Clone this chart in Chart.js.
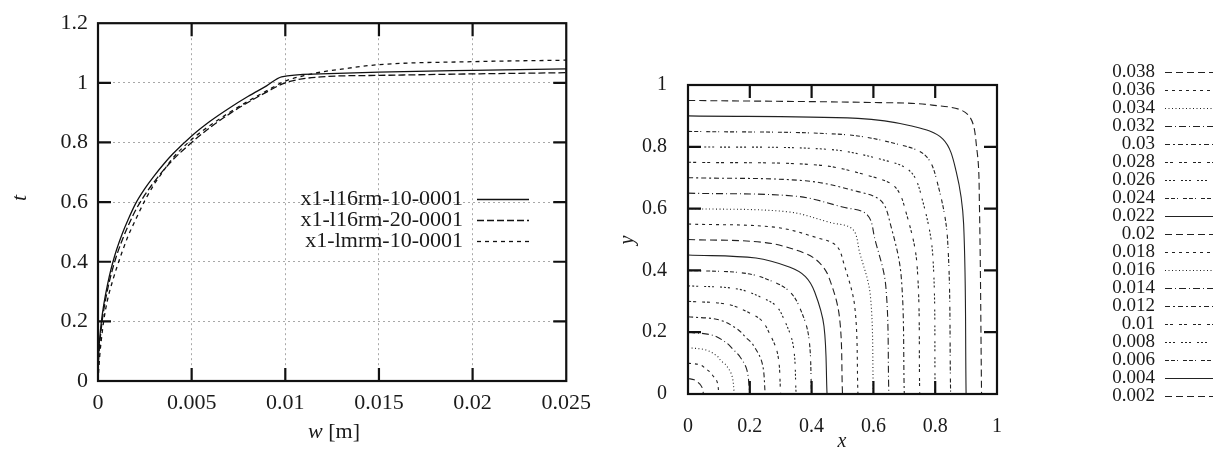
<!DOCTYPE html>
<html>
<head>
<meta charset="utf-8">
<script src="https://cdn.jsdelivr.net/npm/chart.js@4/dist/chart.umd.min.js"></script>
<style>
  html, body { margin: 0; padding: 0; background: #fff; }
  #wrap { position: relative; width: 1225px; height: 453px; overflow: hidden; }
  #left { position: absolute; left: 0; top: 0; }
  #right { position: absolute; left: 600px; top: 0; }
</style>
</head>
<body>
<div id="wrap">
  <canvas id="left" width="600" height="453"></canvas>
  <canvas id="right" width="625" height="453"></canvas>
</div>
<script>
// ---- load–deflection curves (w in metres, t) ----
const wL16rm10 = [0, 0.00002, 0.00005, 0.0001, 0.0002, 0.0003, 0.0004, 0.0006, 0.0008, 0.001, 0.0013, 0.0016, 0.002, 0.0025, 0.003, 0.0035, 0.004, 0.005, 0.006, 0.007, 0.008, 0.009, 0.0098, 0.0119, 0.015, 0.02, 0.025];
const tL16rm10 = [0, 0.07, 0.11, 0.15, 0.209, 0.253, 0.289, 0.35, 0.4, 0.442, 0.495, 0.54, 0.594, 0.645, 0.688, 0.727, 0.762, 0.822, 0.872, 0.915, 0.954, 0.99, 1.02, 1.03, 1.036, 1.042, 1.047];

const wL16rm20 = [0, 0.00002, 0.00005, 0.0001, 0.0002, 0.0003, 0.0004, 0.0006, 0.0008, 0.001, 0.0013, 0.0016, 0.002, 0.0025, 0.003, 0.0035, 0.004, 0.005, 0.006, 0.007, 0.008, 0.009, 0.01, 0.0119, 0.015, 0.02, 0.025];
const tL16rm20 = [0, 0.055, 0.09, 0.13, 0.19, 0.235, 0.272, 0.332, 0.38, 0.422, 0.474, 0.519, 0.572, 0.624, 0.668, 0.707, 0.742, 0.8, 0.851, 0.895, 0.934, 0.969, 1.0, 1.02, 1.025, 1.03, 1.034];

const wLmrm10 = [0, 0.0001, 0.0002, 0.0003, 0.0005, 0.0008, 0.001, 0.0013, 0.0016, 0.002, 0.0025, 0.003, 0.0035, 0.004, 0.005, 0.006, 0.007, 0.008, 0.009, 0.01, 0.011, 0.0119, 0.013, 0.015, 0.02, 0.025];
const tLmrm10 = [0, 0.09, 0.15, 0.2, 0.27, 0.34, 0.38, 0.435, 0.485, 0.54, 0.605, 0.66, 0.705, 0.748, 0.81, 0.858, 0.9, 0.938, 0.973, 1.006, 1.024, 1.036, 1.046, 1.061, 1.071, 1.076];

const seriesNames = ['x1-l16rm-10-0001', 'x1-l16rm-20-0001', 'x1-lmrm-10-0001'];

const wTicks = [0, 0.005, 0.01, 0.015, 0.02, 0.025];
const wTickLabels = ['0', '0.005', '0.01', '0.015', '0.02', '0.025'];
const tTicks = [0, 0.2, 0.4, 0.6, 0.8, 1, 1.2];
const tTickLabels = ['0', '0.2', '0.4', '0.6', '0.8', '1', '1.2'];

// ---- contour field on the unit square ----
const contourLevels = [0.002, 0.004, 0.006, 0.008, 0.01, 0.012, 0.014, 0.016, 0.018, 0.02,
                       0.022, 0.024, 0.026, 0.028, 0.03, 0.032, 0.034, 0.036, 0.038];
const contourLabels = ['0.002', '0.004', '0.006', '0.008', '0.01', '0.012', '0.014', '0.016', '0.018', '0.02',
                       '0.022', '0.024', '0.026', '0.028', '0.03', '0.032', '0.034', '0.036', '0.038'];
// half of each iso-line, from the y axis to the diagonal (the field is symmetric in x and y)
const contourPaths = [
  [[0, 0.95], [0.62, 0.943], [0.79, 0.935], [0.905, 0.905]],
  [[0, 0.90], [0.55, 0.892], [0.72, 0.868], [0.825, 0.825]],
  [[0, 0.85], [0.50, 0.840], [0.68, 0.808], [0.770, 0.770]],
  [[0, 0.80], [0.45, 0.792], [0.63, 0.758], [0.720, 0.720]],
  [[0, 0.75], [0.42, 0.741], [0.59, 0.705], [0.670, 0.670]],
  [[0, 0.70], [0.38, 0.690], [0.55, 0.655], [0.625, 0.625]],
  [[0, 0.65], [0.35, 0.640], [0.50, 0.605], [0.580, 0.580]],
  [[0, 0.60], [0.32, 0.590], [0.46, 0.555], [0.533, 0.533]],
  [[0, 0.55], [0.28, 0.540], [0.42, 0.505], [0.480, 0.480]],
  [[0, 0.50], [0.25, 0.490], [0.38, 0.455], [0.425, 0.425]],
  [[0, 0.45], [0.22, 0.440], [0.33, 0.410], [0.380, 0.380]],
  [[0, 0.40], [0.19, 0.390], [0.29, 0.357], [0.330, 0.330]],
  [[0, 0.35], [0.16, 0.340], [0.25, 0.307], [0.285, 0.285]],
  [[0, 0.30], [0.13, 0.290], [0.21, 0.257], [0.238, 0.238]],
  [[0, 0.25], [0.10, 0.240], [0.16, 0.210], [0.185, 0.185]],
  [[0, 0.20], [0.08, 0.190], [0.125, 0.165], [0.145, 0.145]],
  [[0, 0.15], [0.06, 0.142], [0.095, 0.122], [0.107, 0.107]],
  [[0, 0.10], [0.04, 0.094], [0.06, 0.080], [0.071, 0.071]],
  [[0, 0.05], [0.02, 0.046], [0.03, 0.040], [0.035, 0.035]]
];
const unitTicks = [0, 0.2, 0.4, 0.6, 0.8, 1];
const unitTickLabels = ['0', '0.2', '0.4', '0.6', '0.8', '1'];

// ---- styling ----
const SERIF = "'Liberation Serif', 'DejaVu Serif', serif";
Chart.defaults.font.family = SERIF;
Chart.defaults.color = '#1a1a1a';

// gnuplot-like dash cycle, starting from the highest level
const dashCycle = [
  [7, 4],
  [3, 4],
  [1, 2.5],
  [7, 3, 1, 3],
  [5, 3, 2, 3],
  [3, 2, 3, 6],
  [2, 2, 2, 2, 2, 6],
  [4, 2, 4, 2, 1, 5],
  []
];
const seriesDash = [[], [7, 3], [4, 4]];

const toPoints = (xs, ys) => xs.map((x, i) => ({ x, y: ys[i] }));

// frame with inward tick marks on all four sides
const framePlugin = {
  id: 'frame',
  afterDatasetsDraw(chart, args, opts) {
    const { ctx, chartArea: a, scales: { x, y } } = chart;
    ctx.save();
    ctx.setLineDash([]);
    ctx.strokeStyle = '#111';
    ctx.lineWidth = opts.width;
    ctx.strokeRect(a.left, a.top, a.right - a.left, a.bottom - a.top);
    ctx.beginPath();
    opts.xMarks.forEach(v => {
      const px = x.getPixelForValue(v);
      ctx.moveTo(px, a.bottom); ctx.lineTo(px, a.bottom - opts.len);
      ctx.moveTo(px, a.top); ctx.lineTo(px, a.top + opts.len);
    });
    opts.yMarks.forEach(v => {
      const py = y.getPixelForValue(v);
      ctx.moveTo(a.left, py); ctx.lineTo(a.left + opts.len, py);
      ctx.moveTo(a.right, py); ctx.lineTo(a.right - opts.len, py);
    });
    ctx.stroke();
    ctx.restore();
  }
};

// axis titles (mixed italic / upright pieces)
const titlesPlugin = {
  id: 'titles',
  afterDraw(chart, args, opts) {
    const ctx = chart.ctx;
    opts.items.forEach(item => {
      ctx.save();
      ctx.translate(item.x, item.y);
      if (item.rotate) ctx.rotate(item.rotate);
      ctx.fillStyle = '#1a1a1a';
      ctx.textBaseline = 'middle';
      let total = 0;
      item.parts.forEach(p => { ctx.font = p.font; total += ctx.measureText(p.text).width; });
      let cx = -total / 2;
      ctx.textAlign = 'left';
      item.parts.forEach(p => {
        ctx.font = p.font;
        ctx.fillText(p.text, cx, 0);
        cx += ctx.measureText(p.text).width;
      });
      ctx.restore();
    });
  }
};

// key: label right-aligned, line sample to its right
const keyPlugin = {
  id: 'key',
  afterDraw(chart, args, opts) {
    const ctx = chart.ctx;
    ctx.save();
    ctx.font = opts.font;
    ctx.textAlign = 'right';
    ctx.textBaseline = 'middle';
    opts.rows.forEach((row, i) => {
      const y = opts.top + i * opts.step;
      ctx.fillStyle = '#1a1a1a';
      ctx.fillText(row.label, opts.textRight, y);
      ctx.beginPath();
      ctx.setLineDash(row.dash);
      ctx.strokeStyle = row.color;
      ctx.lineWidth = row.width;
      ctx.moveTo(opts.lineFrom, y + 0.5);
      ctx.lineTo(opts.lineTo, y + 0.5);
      ctx.stroke();
    });
    ctx.restore();
  }
};

// ---------- left panel: t against w ----------
const leftSeries = [
  toPoints(wL16rm10, tL16rm10),
  toPoints(wL16rm20, tL16rm20),
  toPoints(wLmrm10, tLmrm10)
];

new Chart(document.getElementById('left'), {
  type: 'scatter',
  data: {
    datasets: leftSeries.map((pts, i) => ({
      label: seriesNames[i],
      data: pts,
      showLine: true,
      pointRadius: 0,
      borderColor: '#111',
      borderWidth: 1.3,
      borderDash: seriesDash[i],
      cubicInterpolationMode: 'monotone'
    }))
  },
  options: {
    responsive: false,
    animation: false,
    events: [],
    layout: { padding: { left: 0, top: 15, right: 30, bottom: 0 } },
    plugins: {
      legend: { display: false },
      tooltip: { enabled: false },
      frame: { width: 2.2, len: 13, xMarks: wTicks.slice(1, -1), yMarks: tTicks.slice(1, -1) },
      titles: {
        items: [
          { x: 334, y: 432, parts: [{ text: 'w', font: 'italic 22px ' + SERIF }, { text: ' [m]', font: '22px ' + SERIF }] },
          { x: 20, y: 198, rotate: -Math.PI / 2, parts: [{ text: 't', font: 'italic 22px ' + SERIF }] }
        ]
      },
      key: {
        font: '22px ' + SERIF,
        top: 199, step: 21, textRight: 463, lineFrom: 477, lineTo: 529,
        rows: seriesNames.map((n, i) => ({ label: n, dash: seriesDash[i], color: '#111', width: 1.3 }))
      }
    },
    scales: {
      x: {
        type: 'linear', min: 0, max: 0.025,
        afterFit(s) { s.height = 72; },
        afterBuildTicks(s) { s.ticks = wTicks.map(v => ({ value: v })); },
        ticks: {
          font: { size: 22 }, padding: 9, maxRotation: 0, autoSkip: false,
          callback: (v, i) => wTickLabels[i]
        },
        grid: { color: '#a8a8a8', lineWidth: 1, drawTicks: false },
        border: { display: false, dash: [2, 3] }
      },
      y: {
        type: 'linear', min: 0, max: 1.2,
        afterFit(s) { s.width = 98; },
        afterBuildTicks(s) { s.ticks = tTicks.map(v => ({ value: v })); },
        ticks: {
          font: { size: 22 }, padding: 10, autoSkip: false,
          callback: (v, i) => tTickLabels[i]
        },
        grid: { color: '#a8a8a8', lineWidth: 1, drawTicks: false },
        border: { display: false, dash: [2, 3] }
      }
    }
  },
  plugins: [framePlugin, titlesPlugin, keyPlugin]
});

// ---------- right panel: iso-lines ----------
const mirrorPath = half => half.concat(half.slice(0, -1).reverse().map(([a, b]) => [b, a]))
  .map(([x, y]) => ({ x, y }));
const styleIndex = i => (contourLevels.length - 1 - i) % dashCycle.length;

new Chart(document.getElementById('right'), {
  type: 'scatter',
  data: {
    datasets: contourPaths.map((half, i) => ({
      label: contourLabels[i],
      data: mirrorPath(half),
      showLine: true,
      pointRadius: 0,
      borderColor: '#222',
      borderWidth: 1.1,
      borderDash: dashCycle[styleIndex(i)],
      tension: 0.35
    }))
  },
  options: {
    responsive: false,
    animation: false,
    events: [],
    layout: { padding: { left: 0, top: 85, right: 228, bottom: 0 } },
    plugins: {
      legend: { display: false },
      tooltip: { enabled: false },
      frame: { width: 2.2, len: 13, xMarks: unitTicks.slice(1, -1), yMarks: unitTicks.slice(1, -1) },
      titles: {
        items: [
          { x: 242, y: 442, parts: [{ text: 'x', font: 'italic 20px ' + SERIF }] },
          { x: 28, y: 240, rotate: -Math.PI / 2, parts: [{ text: 'y', font: 'italic 20px ' + SERIF }] }
        ]
      },
      key: {
        font: '19px ' + SERIF,
        top: 72, step: 18, textRight: 555, lineFrom: 565, lineTo: 613,
        rows: contourLabels.map((lab, i) => ({ label: lab, dash: dashCycle[styleIndex(i)], color: '#222', width: 1.1 })).reverse()
      }
    },
    scales: {
      x: {
        type: 'linear', min: 0, max: 1,
        afterFit(s) { s.height = 59; },
        afterBuildTicks(s) { s.ticks = unitTicks.map(v => ({ value: v })); },
        ticks: { font: { size: 20 }, padding: 13, maxRotation: 0, autoSkip: false, callback: (v, i) => unitTickLabels[i] },
        grid: { display: false },
        border: { display: false }
      },
      y: {
        type: 'linear', min: 0, max: 1,
        afterFit(s) { s.width = 88; },
        afterBuildTicks(s) { s.ticks = unitTicks.map(v => ({ value: v })); },
        ticks: { font: { size: 20 }, padding: 13, autoSkip: false, callback: (v, i) => unitTickLabels[i] },
        grid: { display: false },
        border: { display: false }
      }
    }
  },
  plugins: [framePlugin, titlesPlugin, keyPlugin]
});
</script>
</body>
</html>
